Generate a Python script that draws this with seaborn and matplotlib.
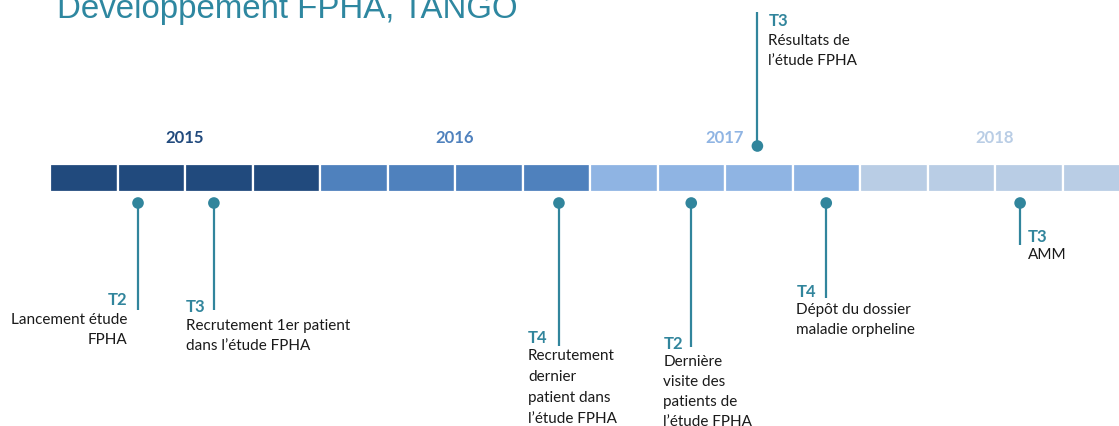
import matplotlib
matplotlib.use("Agg")
import matplotlib.pyplot as plt
import seaborn as sns
import numpy as np
import pandas as pd

# ---- data ----
years = [2015, 2016, 2017, 2018]
year_colors = ["#214a7d", "#4f81bd", "#8fb4e3", "#b9cde5"]
quarters_per_year = 4

event_pos = [2015.326, 2015.607, 2016.885, 2017.375, 2017.62, 2017.875, 2018.593]
event_quarter = ["T2", "T3", "T4", "T2", "T3", "T4", "T3"]
event_text = [
    "Lancement étude\nFPHA",
    "Recrutement 1er patient\ndans l\u2019étude FPHA",
    "Recrutement\ndernier\npatient dans\nl\u2019étude FPHA",
    "Dernière\nvisite des\npatients de\nl\u2019étude FPHA",
    "Résultats de\nl\u2019étude FPHA",
    "Dépôt du dossier\nmaladie orpheline",
    "AMM",
]
title = "Developpement FPHA, TANGO"

# ---- layout (pixels) ----
W, H = 1119, 426
PX_PER_YEAR = 270.0
X0_PX = 50
# per event: marker y, stem end y, label x offset px, label top y, text top y, align, linespacing
layout = [
    (203, 310, -11, 292, 313, "right", 1.55),
    (203, 310, -28, 299, 319, "left", 1.55),
    (203, 346, -31, 330, 349, "left", 1.65),
    (203, 347, -28, 336, 355, "left", 1.55),
    (146, 12, 11, 13, 34, "left", 1.55),
    (203, 298, -30, 284, 303, "left", 1.55),
    (203, 245, 8, 229, 248, "left", 1.55),
]
teal = "#31859c"

sns.set_theme(style="white")
plt.rcParams["font.family"] = ["Lato", "DejaVu Sans"]

fig = plt.figure(figsize=(W / 100, H / 100), dpi=100)
ax = fig.add_axes([0, 0, 1, 1])
xmin = years[0] - X0_PX / PX_PER_YEAR
xmax = years[0] + (W - X0_PX) / PX_PER_YEAR
ax.set_xlim(xmin, xmax)
ax.set_ylim(H, 0)
ax.axis("off")

# quarter segments
q_left, q_col = [], []
for y, c in zip(years, year_colors):
    for q in range(quarters_per_year):
        q_left.append(y + q / quarters_per_year)
        q_col.append(c)
ax.barh([178] * len(q_left), [1 / quarters_per_year] * len(q_left), left=q_left,
        height=28, color=q_col, edgecolor="white", linewidth=1.6, align="center")

# year labels
for y, c in zip(years, year_colors):
    ax.text(y + 0.5, 138, str(y), color=c, fontsize=12, fontweight="bold",
            ha="center", va="center")

# stems
for xp, (my, ey, *_rest) in zip(event_pos, layout):
    ax.plot([xp, xp], [my, ey], color=teal, lw=1.6, solid_capstyle="butt", zorder=2)

# markers
df = pd.DataFrame({"x": event_pos, "y": [l[0] for l in layout]})
sns.scatterplot(data=df, x="x", y="y", ax=ax, s=70, color=teal, edgecolor="none",
                zorder=3, legend=False)

# labels
for xp, q, t, (my, ey, dx, ly, ty, al, ls) in zip(event_pos, event_quarter, event_text, layout):
    tx = xp + dx / PX_PER_YEAR
    ax.text(tx, ly, q, color=teal, fontsize=12, fontweight="bold", ha=al, va="top")
    ax.text(tx, ty, t, color="#1a1a1a", fontsize=11, ha=al, va="top",
            multialignment=al, linespacing=ls)

# title
fig.text(57 / W, 1 - 18 / H, title, color="#2e87a0", fontsize=23.8,
         family=["Liberation Sans", "DejaVu Sans"], ha="left", va="baseline")

fig.savefig("out.png", dpi=100)
